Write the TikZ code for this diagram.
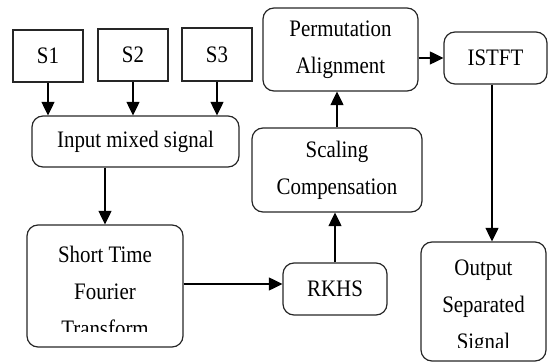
\documentclass[tikz,border=0pt]{standalone}
\usepackage{fontspec}
\usepackage{graphicx}
\setmainfont{Liberation Serif}
\usetikzlibrary{arrows.meta}
% slightly tall lettering
\newcommand\tall[1]{\scalebox{1}[1.13]{#1}}
\begin{document}
\begin{tikzpicture}[x=1pt,y=-1pt,
  txt/.style={font=\fontsize{20.9}{37}\selectfont, align=center, inner sep=0pt},
  sbox/.style={draw=black!85, line width=1.2pt, txt},
  rbox/.style={sbox, rounded corners=11pt},
  arr/.style={draw=black, line width=1.2pt, -{Triangle[length=13.5pt,width=13pt]}}]
\useasboundingbox (0,0) rectangle (548,363);

% sources
\node[sbox, minimum width=70pt, minimum height=52pt] (s1) at (48,56) {\tall{S1}};
\node[sbox, minimum width=70pt, minimum height=52pt] (s2) at (133,55) {\tall{S2}};
\node[sbox, minimum width=70pt, minimum height=53pt] (s3) at (217,54.5) {\tall{S3}};

% processing chain
\node[rbox, minimum width=207pt, minimum height=51pt] (mix) at (135.5,141.5) {\tall{Input mixed signal}};
\node[rbox, minimum width=156pt, minimum height=122pt] (stft) at (105,286) {};
\node[rbox, minimum width=104pt, minimum height=52pt] (rkhs) at (335,289) {\tall{RKHS}};
\node[rbox, minimum width=170pt, minimum height=84pt] (scal) at (337,170) {\tall{Scaling}\\\tall{Compensation}};
\node[rbox, minimum width=155pt, minimum height=83pt] (perm) at (340.5,49.5) {\tall{Permutation}\\\tall{Alignment}};
\node[rbox, minimum width=103pt, minimum height=52pt] (istft) at (495.5,58) {\tall{ISTFT}};
\node[rbox, minimum width=125pt, minimum height=119pt] (out) at (483.5,301.5) {};

% three-line labels, cut off at the bottom
\begin{scope}
  \clip (27,225) rectangle (183,331.5);
  \node[txt] (stfttext) at (105,291) {\tall{Short Time}\\\tall{Fourier}\\\tall{Transform}};
\end{scope}
\begin{scope}
  \clip (421,242) rectangle (546,347);
  \node[txt] (outtext) at (483.5,307.5) {\tall{Output}\\\tall{Separated}\\\tall{Signal}};
\end{scope}

% connectors
\draw[arr] (s1.south) -- (s1.south |- mix.north);
\draw[arr] (s2.south) -- (s2.south |- mix.north);
\draw[arr] (s3.south) -- (s3.south |- mix.north);
\draw[arr] (stft.north |- mix.south) -- (stft.north);
\draw[arr] ([yshift=2pt]stft.east) -- ([yshift=2pt]stft.east -| rkhs.west);
\draw[arr] (rkhs.north) -- (rkhs.north |- scal.south);
\draw[arr] (scal.north) -- (scal.north |- perm.south);
\draw[arr] (istft.west -| perm.east) -- (istft.west);
\draw[arr] ([xshift=-3.5pt]istft.south) -- ([xshift=-3.5pt]istft.south |- out.north);
\end{tikzpicture}
\end{document}
